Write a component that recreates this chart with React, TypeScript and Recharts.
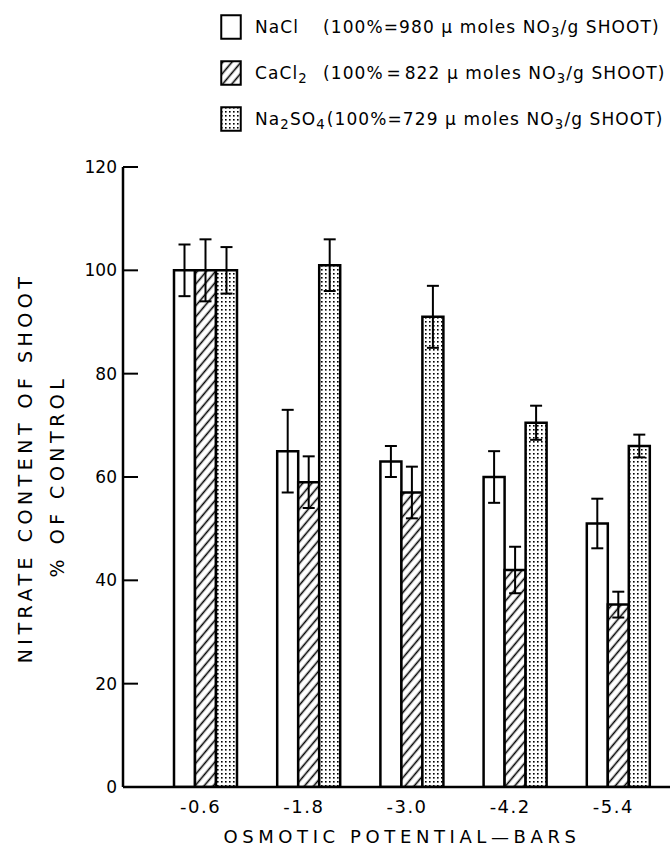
import React from "react";
import { BarChart, Bar, XAxis, YAxis, ErrorBar, Legend } from "recharts";

const potentials = ["-0.6", "-1.8", "-3.0", "-4.2", "-5.4"];
const nacl = [100, 65, 63, 60, 51];
const naclErr = [5, 8, 3, 5, 4.8];
const cacl2 = [100, 59, 57, 42, 35.3];
const cacl2Err = [6, 5, 5, 4.5, 2.5];
const na2so4 = [100, 101, 91, 70.5, 66];
const na2so4Err = [4.5, 5, 6, 3.3, 2.2];
const yTicks = [0, 20, 40, 60, 80, 100, 120];

const saltNames = ["NaCl", "CaCl2", "Na2SO4"];
const controlTotals = ["=980", "\u200a=\u200a822", "=729"];
const saltFills = ["#fff", "url(#hatch)", "url(#dots)"];

const data = potentials.map((p, i) => ({
  potential: p,
  nacl: nacl[i],
  naclErr: naclErr[i],
  cacl2: cacl2[i],
  cacl2Err: cacl2Err[i],
  na2so4: na2so4[i],
  na2so4Err: na2so4Err[i],
}));

const FONT = "'DejaVu Sans', sans-serif";

// digits in chemical formulas become subscripts
const chem = (s: string) =>
  s.split(/(\d+)/).map((part, i) =>
    /^\d+$/.test(part) ? (
      <sub key={i} style={{ fontSize: "0.78em", verticalAlign: "-0.3em", lineHeight: 0 }}>{part}</sub>
    ) : (
      <span key={i}>{part}</span>
    )
  );

const LegendContent = () => (
  <div style={{ position: "relative", width: 670, height: 140, fontFamily: FONT, fontSize: 17, letterSpacing: 1.1, color: "#000" }}>
    {saltNames.map((name, i) => (
      <div key={name} style={{ position: "absolute", left: 220, top: 14 + i * 46, height: 26, display: "flex", alignItems: "center", whiteSpace: "nowrap" }}>
        <svg width={22} height={26} style={{ display: "block" }}>
          <rect x={1.25} y={1.25} width={19.5} height={23.5} fill={saltFills[i]} stroke="#000" strokeWidth={2} />
        </svg>
        <span style={{ display: "inline-block", minWidth: 67, marginLeft: 13, marginRight: 1 }}>{chem(name)}</span>
        <span>
          (100%{controlTotals[i]} μ moles NO<sub style={{ fontSize: "0.78em", verticalAlign: "-0.3em", lineHeight: 0 }}>3</sub>/g SHOOT)
        </span>
      </div>
    ))}
  </div>
);

const YTick = (props: any) => {
  const { x, y, payload } = props;
  return (
    <g>
      <line x1={x} y1={y} x2={x + 15} y2={y} stroke="#000" strokeWidth={2} />
      <text x={x - 6} y={y} dy={6} textAnchor="end" fontFamily={FONT} fontSize={17} fill="#000">
        {payload.value}
      </text>
    </g>
  );
};

const XTick = (props: any) => {
  const { x, y, payload } = props;
  return (
    <text x={x - 5} y={y + 26} textAnchor="middle" fontFamily={FONT} fontSize={18} fill="#000" letterSpacing={1.5}>
      {payload.value}
    </text>
  );
};

export default function App() {
  return (
    <div style={{ position: "absolute", left: 0, top: 0, background: "#fff" }}>
      <BarChart
        width={670}
        height={857}
        data={data}
        margin={{ top: 167, right: 0, bottom: 0, left: 63 }}
        barCategoryGap={20}
        barGap={0}
      >
        <defs>
          <pattern id="hatch" patternUnits="userSpaceOnUse" width={7} height={7} patternTransform="rotate(40)">
            <rect width={7} height={7} fill="#fff" />
            <line x1={3.5} y1={0} x2={3.5} y2={7} stroke="#000" strokeWidth={1.6} />
          </pattern>
          <pattern id="dots" patternUnits="userSpaceOnUse" width={4} height={4}>
            <rect width={4} height={4} fill="#fff" />
            <rect x={1} y={1} width={1.6} height={1.6} fill="#000" />
          </pattern>
        </defs>
        <XAxis
          dataKey="potential"
          height={70}
          padding={{ left: 31, right: 0 }}
          axisLine={{ stroke: "#000", strokeWidth: 2.5 }}
          tickLine={false}
          tickSize={0}
          tickMargin={0}
          tick={<XTick />}
          label={{
            content: () => (
              <text x={402} y={843} textAnchor="middle" fontFamily={FONT} fontSize={18} letterSpacing={4.6} fill="#000">
                OSMOTIC POTENTIAL—BARS
              </text>
            ),
          }}
        />
        <YAxis
          width={60}
          domain={[0, 120]}
          ticks={yTicks}
          allowDataOverflow
          axisLine={{ stroke: "#000", strokeWidth: 2.5 }}
          tickLine={false}
          tickSize={0}
          tickMargin={0}
          tick={<YTick />}
          label={{
            content: () => (
              <g fontFamily={FONT} fontSize={19} letterSpacing={4.5} fill="#000">
                <text x={32} y={468} textAnchor="middle" transform="rotate(-90 32 468)">
                  NITRATE CONTENT OF SHOOT
                </text>
                <text x={64} y={476} textAnchor="middle" transform="rotate(-90 64 476)">
                  % OF CONTROL
                </text>
              </g>
            ),
          }}
        />
        <Legend
          layout="vertical"
          align="center"
          verticalAlign="middle"
          wrapperStyle={{ top: 0, left: 0, width: 670, height: 140 }}
          content={<LegendContent />}
        />
        <Bar dataKey="nacl" fill={saltFills[0]} stroke="#000" strokeWidth={2.5} isAnimationActive={false}>
          <ErrorBar dataKey="naclErr" width={6} stroke="#000" strokeWidth={2} direction="y" isAnimationActive={false} />
        </Bar>
        <Bar dataKey="cacl2" fill={saltFills[1]} stroke="#000" strokeWidth={2.5} isAnimationActive={false}>
          <ErrorBar dataKey="cacl2Err" width={6} stroke="#000" strokeWidth={2} direction="y" isAnimationActive={false} />
        </Bar>
        <Bar dataKey="na2so4" fill={saltFills[2]} stroke="#000" strokeWidth={2.5} isAnimationActive={false}>
          <ErrorBar dataKey="na2so4Err" width={6} stroke="#000" strokeWidth={2} direction="y" isAnimationActive={false} />
        </Bar>
      </BarChart>
    </div>
  );
}
